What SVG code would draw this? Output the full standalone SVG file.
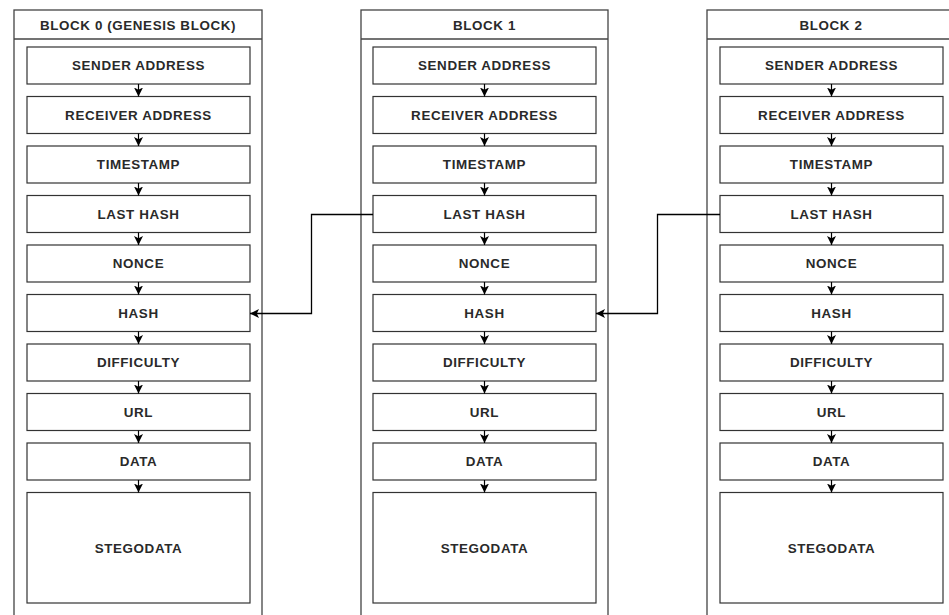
<svg xmlns="http://www.w3.org/2000/svg" width="949" height="615" viewBox="0 0 949 615">
<style>
.frame{fill:#fff;stroke:#444;stroke-width:1.3}
.box{fill:#fff;stroke:#333;stroke-width:1.2}
.t{font-family:"Liberation Sans",Arial,sans-serif;font-size:13.4px;font-weight:bold;fill:#2a2a2a;text-anchor:middle;dominant-baseline:central;letter-spacing:0.6px}
.a{stroke:#000;stroke-width:1.2;fill:none;marker-end:url(#ah)}
.c{stroke:#000;stroke-width:1.3;fill:none;marker-end:url(#ah2)}
</style>
<defs>
<marker id="ah" markerUnits="userSpaceOnUse" markerWidth="12" markerHeight="12" refX="9" refY="4.5" orient="auto"><path d="M0,0 L9,4.5 L0,9 L2.2,4.5 z" fill="#000"/></marker>
<marker id="ah2" markerUnits="userSpaceOnUse" markerWidth="12" markerHeight="12" refX="9" refY="4.5" orient="auto"><path d="M0,0 L9,4.5 L0,9 L2.2,4.5 z" fill="#000"/></marker>
</defs>
<rect width="949" height="615" fill="#fff"/>
<g id="block0">
<rect class="frame" x="14" y="10" width="248" height="620"/>
<line x1="14" y1="39" x2="262" y2="39" stroke="#444" stroke-width="1.3"/>
<text class="t" x="138" y="25">BLOCK 0 (GENESIS BLOCK)</text>
</g>
<g id="block1">
<rect class="frame" x="361" y="10" width="247" height="620"/>
<line x1="361" y1="39" x2="608" y2="39" stroke="#444" stroke-width="1.3"/>
<text class="t" x="484.5" y="25">BLOCK 1</text>
</g>
<g id="block2">
<rect class="frame" x="707" y="10" width="248" height="620"/>
<line x1="707" y1="39" x2="955" y2="39" stroke="#444" stroke-width="1.3"/>
<text class="t" x="831" y="25">BLOCK 2</text>
</g>
<g id="b0-fields">
<g id="b0-sender"><rect class="box" x="27" y="47" width="223" height="37"/><text class="t" x="138.5" y="65.5">SENDER ADDRESS</text></g>
<g id="b0-receiver"><rect class="box" x="27" y="96.5" width="223" height="37"/><text class="t" x="138.5" y="115">RECEIVER ADDRESS</text></g>
<g id="b0-timestamp"><rect class="box" x="27" y="146" width="223" height="37"/><text class="t" x="138.5" y="164.5">TIMESTAMP</text></g>
<g id="b0-lasthash"><rect class="box" x="27" y="195.5" width="223" height="37"/><text class="t" x="138.5" y="214">LAST HASH</text></g>
<g id="b0-nonce"><rect class="box" x="27" y="245" width="223" height="37"/><text class="t" x="138.5" y="263.5">NONCE</text></g>
<g id="b0-hash"><rect class="box" x="27" y="294.5" width="223" height="37"/><text class="t" x="138.5" y="313">HASH</text></g>
<g id="b0-difficulty"><rect class="box" x="27" y="344" width="223" height="37"/><text class="t" x="138.5" y="362.5">DIFFICULTY</text></g>
<g id="b0-url"><rect class="box" x="27" y="393.5" width="223" height="37"/><text class="t" x="138.5" y="412">URL</text></g>
<g id="b0-data"><rect class="box" x="27" y="443" width="223" height="37"/><text class="t" x="138.5" y="461.5">DATA</text></g>
<g id="b0-stego"><rect class="box" x="27" y="492.5" width="223" height="110.5"/><text class="t" x="138.5" y="548">STEGODATA</text></g>
</g>
<g id="b1-fields">
<g id="b1-sender"><rect class="box" x="373" y="47" width="223" height="37"/><text class="t" x="484.5" y="65.5">SENDER ADDRESS</text></g>
<g id="b1-receiver"><rect class="box" x="373" y="96.5" width="223" height="37"/><text class="t" x="484.5" y="115">RECEIVER ADDRESS</text></g>
<g id="b1-timestamp"><rect class="box" x="373" y="146" width="223" height="37"/><text class="t" x="484.5" y="164.5">TIMESTAMP</text></g>
<g id="b1-lasthash"><rect class="box" x="373" y="195.5" width="223" height="37"/><text class="t" x="484.5" y="214">LAST HASH</text></g>
<g id="b1-nonce"><rect class="box" x="373" y="245" width="223" height="37"/><text class="t" x="484.5" y="263.5">NONCE</text></g>
<g id="b1-hash"><rect class="box" x="373" y="294.5" width="223" height="37"/><text class="t" x="484.5" y="313">HASH</text></g>
<g id="b1-difficulty"><rect class="box" x="373" y="344" width="223" height="37"/><text class="t" x="484.5" y="362.5">DIFFICULTY</text></g>
<g id="b1-url"><rect class="box" x="373" y="393.5" width="223" height="37"/><text class="t" x="484.5" y="412">URL</text></g>
<g id="b1-data"><rect class="box" x="373" y="443" width="223" height="37"/><text class="t" x="484.5" y="461.5">DATA</text></g>
<g id="b1-stego"><rect class="box" x="373" y="492.5" width="223" height="110.5"/><text class="t" x="484.5" y="548">STEGODATA</text></g>
</g>
<g id="b2-fields">
<g id="b2-sender"><rect class="box" x="720" y="47" width="223" height="37"/><text class="t" x="831.5" y="65.5">SENDER ADDRESS</text></g>
<g id="b2-receiver"><rect class="box" x="720" y="96.5" width="223" height="37"/><text class="t" x="831.5" y="115">RECEIVER ADDRESS</text></g>
<g id="b2-timestamp"><rect class="box" x="720" y="146" width="223" height="37"/><text class="t" x="831.5" y="164.5">TIMESTAMP</text></g>
<g id="b2-lasthash"><rect class="box" x="720" y="195.5" width="223" height="37"/><text class="t" x="831.5" y="214">LAST HASH</text></g>
<g id="b2-nonce"><rect class="box" x="720" y="245" width="223" height="37"/><text class="t" x="831.5" y="263.5">NONCE</text></g>
<g id="b2-hash"><rect class="box" x="720" y="294.5" width="223" height="37"/><text class="t" x="831.5" y="313">HASH</text></g>
<g id="b2-difficulty"><rect class="box" x="720" y="344" width="223" height="37"/><text class="t" x="831.5" y="362.5">DIFFICULTY</text></g>
<g id="b2-url"><rect class="box" x="720" y="393.5" width="223" height="37"/><text class="t" x="831.5" y="412">URL</text></g>
<g id="b2-data"><rect class="box" x="720" y="443" width="223" height="37"/><text class="t" x="831.5" y="461.5">DATA</text></g>
<g id="b2-stego"><rect class="box" x="720" y="492.5" width="223" height="110.5"/><text class="t" x="831.5" y="548">STEGODATA</text></g>
</g>
<g id="connectors">
<path class="a" d="M138.5,84 V96.5"/><path class="a" d="M138.5,133.5 V146"/><path class="a" d="M138.5,183 V195.5"/><path class="a" d="M138.5,232.5 V245"/><path class="a" d="M138.5,282 V294.5"/><path class="a" d="M138.5,331.5 V344"/><path class="a" d="M138.5,381 V393.5"/><path class="a" d="M138.5,430.5 V443"/><path class="a" d="M138.5,480 V492.5"/>
<path class="a" d="M484.5,84 V96.5"/><path class="a" d="M484.5,133.5 V146"/><path class="a" d="M484.5,183 V195.5"/><path class="a" d="M484.5,232.5 V245"/><path class="a" d="M484.5,282 V294.5"/><path class="a" d="M484.5,331.5 V344"/><path class="a" d="M484.5,381 V393.5"/><path class="a" d="M484.5,430.5 V443"/><path class="a" d="M484.5,480 V492.5"/>
<path class="a" d="M831.5,84 V96.5"/><path class="a" d="M831.5,133.5 V146"/><path class="a" d="M831.5,183 V195.5"/><path class="a" d="M831.5,232.5 V245"/><path class="a" d="M831.5,282 V294.5"/><path class="a" d="M831.5,331.5 V344"/><path class="a" d="M831.5,381 V393.5"/><path class="a" d="M831.5,430.5 V443"/><path class="a" d="M831.5,480 V492.5"/>
<path class="c" d="M373,214.5 H311.5 V313.5 H250"/>
<path class="c" d="M720,214.5 H657.5 V313.5 H596"/>
</g>
</svg>
